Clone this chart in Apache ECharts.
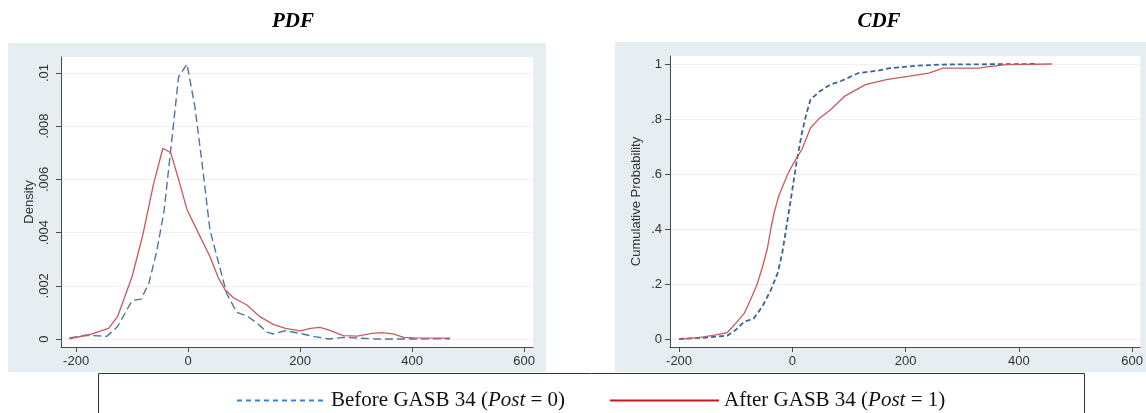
<!DOCTYPE html>
<html>
<head>
<meta charset="utf-8">
<script src="https://cdn.jsdelivr.net/npm/echarts@6/dist/echarts.min.js"></script>
<style>
  html, body { margin: 0; padding: 0; background: #fff; }
  #chart { width: 1146px; height: 413px; }
</style>
</head>
<body>
<div id="chart"></div>
<script>
// tick labels
const xTicks = [-200, 0, 200, 400, 600]
const pdfTicks = [0, 0.002, 0.004, 0.006, 0.008, 0.01]
const cdfTicks = [0, 0.2, 0.4, 0.6, 0.8, 1]

// PDF, before GASB 34 (Post = 0)
const pdfBeforeX = [-212, -183, -145, -126, -100, -84, -70, -56, -43, -29, -17, -2, 12, 25, 39, 54, 69, 87, 105, 123, 141, 152, 174, 200, 226, 251, 277, 302, 334, 398, 468]
const pdfBeforeY = [0.00004, 0.00014, 0.0001, 0.00047, 0.00145, 0.0015, 0.0021, 0.0033, 0.0048, 0.0075, 0.00985, 0.01034, 0.00875, 0.0066, 0.0041, 0.0029, 0.0017, 0.001, 0.00087, 0.0006, 0.00026, 0.00019, 0.00031, 0.00021, 0.00009, 0, 0.00006, 0.00004, 0, 0, 0.00001]

// PDF, after GASB 34 (Post = 1)
const pdfAfterX = [-212, -177, -142, -126, -100, -81, -62, -45, -31, -17, -2, 18, 39, 54, 66, 81, 105, 129, 152, 174, 200, 219, 235, 251, 277, 302, 328, 347, 366, 385, 404, 468]
const pdfAfterY = [0.00001, 0.00016, 0.0004, 0.00084, 0.00235, 0.0039, 0.0058, 0.00717, 0.007, 0.006, 0.00487, 0.004, 0.0031, 0.0023, 0.00185, 0.00155, 0.00128, 0.00083, 0.00055, 0.0004, 0.00031, 0.0004, 0.00044, 0.00034, 0.00013, 0.00011, 0.00021, 0.00024, 0.00019, 0.00006, 0.00004, 0.00003]

// CDF, before
const cdfBeforeX = [-200, -153, -115, -100, -85, -76, -68, -53, -38, -26, -18, -11, -4, 2, 8, 17, 25, 32, 48, 67, 85, 117, 154, 173, 222, 266, 350, 428]
const cdfBeforeY = [0, 0.005, 0.012, 0.033, 0.063, 0.069, 0.075, 0.118, 0.178, 0.239, 0.31, 0.4, 0.49, 0.57, 0.65, 0.75, 0.82, 0.87, 0.9, 0.925, 0.937, 0.967, 0.977, 0.985, 0.994, 0.998, 0.999, 1]

// CDF, after
const cdfAfterX = [-200, -165, -135, -115, -100, -85, -74, -62, -53, -44, -38, -32, -24, -16, -8, 1, 17, 32, 48, 67, 92, 129, 166, 204, 241, 266, 328, 347, 378, 458]
const cdfAfterY = [0, 0.005, 0.015, 0.023, 0.057, 0.093, 0.142, 0.2, 0.26, 0.33, 0.4, 0.46, 0.52, 0.56, 0.6, 0.635, 0.69, 0.767, 0.803, 0.833, 0.882, 0.925, 0.943, 0.955, 0.967, 0.985, 0.985, 0.99, 0.998, 1]

const pairs = (xs, ys) => xs.map((x, i) => [x, ys[i]])
const trimZero = v => v === 0 ? '0' : String(v).replace(/^0\./, '.')

const BLUE = '#4f74a2'
const RED = '#c95a5c'
const PANEL = '#e7eef1'
const GRIDLINE = '#edf3f5'
const AXIS = '#4a4a4a'
const SANS = 'Liberation Sans, Arial, sans-serif'
const SERIF = 'Liberation Serif, Times New Roman, serif'

const chart = echarts.init(document.getElementById('chart'))

const xAxisBase = (grid, min, max) => ({
  type: 'value',
  gridIndex: grid,
  min: min,
  max: max,
  axisLine: { show: true, onZero: false, lineStyle: { color: AXIS, width: 1 } },
  axisTick: { show: true, length: 5, customValues: xTicks, lineStyle: { color: AXIS } },
  axisLabel: { customValues: xTicks, color: '#333', fontFamily: SANS, fontSize: 13, margin: 8 },
  splitLine: { show: false }
})

const yAxisBase = (grid, min, max, ticks, rotate, name, nameGap, margin) => ({
  type: 'value',
  gridIndex: grid,
  min: min,
  max: max,
  name: name,
  nameLocation: 'middle',
  nameGap: nameGap,
  nameTextStyle: { color: '#333', fontFamily: SANS, fontSize: 13 },
  axisLine: { show: true, onZero: false, lineStyle: { color: AXIS, width: 1 } },
  axisTick: { show: true, length: 5, customValues: ticks, lineStyle: { color: AXIS } },
  axisLabel: {
    customValues: ticks,
    rotate: rotate,
    color: '#333',
    fontFamily: SANS,
    fontSize: 13,
    margin: margin,
    formatter: trimZero
  },
  splitLine: { show: true, lineStyle: { color: GRIDLINE, width: 1 } }
})

const legendText = {
  fontFamily: SERIF,
  fontSize: 21,
  color: '#111',
  rich: {
    n: { fontFamily: SERIF, fontSize: 21, color: '#111' },
    i: { fontFamily: SERIF, fontSize: 21, color: '#111', fontStyle: 'italic' }
  }
}

const option = {
  animation: false,
  backgroundColor: '#fff',
  title: [
    { text: 'PDF', left: 288, top: 6, textAlign: 'center',
      textStyle: { fontFamily: SERIF, fontSize: 21, fontWeight: 'bold', fontStyle: 'italic', color: '#000' } },
    { text: 'CDF', left: 874, top: 6, textAlign: 'center',
      textStyle: { fontFamily: SERIF, fontSize: 21, fontWeight: 'bold', fontStyle: 'italic', color: '#000' } }
  ],
  graphic: [
    { type: 'rect', z: -100, shape: { x: 8, y: 43, width: 538, height: 329 }, style: { fill: PANEL } },
    { type: 'rect', z: -100, shape: { x: 615, y: 42, width: 531, height: 330 }, style: { fill: PANEL } },
    { type: 'rect', z: -100, shape: { x: 98.5, y: 373.5, width: 986, height: 60 }, style: { fill: '#fff', stroke: '#333', lineWidth: 1 } }
  ],
  grid: [
    { left: 61, top: 57, width: 472, height: 290, show: true, backgroundColor: '#fff', borderWidth: 0 },
    { left: 670, top: 56, width: 473, height: 291, show: true, backgroundColor: '#fff', borderWidth: 0 }
  ],
  xAxis: [
    xAxisBase(0, -227, 616),
    xAxisBase(1, -216, 614)
  ],
  yAxis: [
    yAxisBase(0, -0.0003, 0.0106, pdfTicks, 90, 'Density', 25, 10),
    yAxisBase(1, -0.029, 1.029, cdfTicks, 0, 'Cumulative Probability', 27, 8)
  ],
  legend: [
    {
      left: 231, top: 385, itemWidth: 89, itemHeight: 14, itemGap: 5,
      data: [{ name: 'Before', lineStyle: { color: '#2f86d8', type: [5, 4], width: 2 }, itemStyle: { opacity: 0 } }],
      formatter: () => '{n|Before GASB 34 (}{i|Post}{n| = 0)}',
      textStyle: legendText
    },
    {
      left: 604, top: 385, itemWidth: 109, itemHeight: 14, itemGap: 5,
      data: [{ name: 'After', lineStyle: { color: '#c8161d', type: 'solid', width: 2 }, itemStyle: { opacity: 0 } }],
      formatter: () => '{n|After GASB 34 (}{i|Post}{n| = 1)}',
      textStyle: legendText
    }
  ],
  series: [
    {
      name: 'Before', type: 'line', xAxisIndex: 0, yAxisIndex: 0, symbol: 'none',
      data: pairs(pdfBeforeX, pdfBeforeY),
      lineStyle: { color: BLUE, width: 1.4, type: [8, 4] }, itemStyle: { color: BLUE }
    },
    {
      name: 'After', type: 'line', xAxisIndex: 0, yAxisIndex: 0, symbol: 'none',
      data: pairs(pdfAfterX, pdfAfterY),
      lineStyle: { color: RED, width: 1.3 }, itemStyle: { color: RED }
    },
    {
      name: 'Before', type: 'line', xAxisIndex: 1, yAxisIndex: 1, symbol: 'none',
      data: pairs(cdfBeforeX, cdfBeforeY),
      lineStyle: { color: '#3f6290', width: 1.8, type: [5, 3] }, itemStyle: { color: BLUE }
    },
    {
      name: 'After', type: 'line', xAxisIndex: 1, yAxisIndex: 1, symbol: 'none',
      data: pairs(cdfAfterX, cdfAfterY),
      lineStyle: { color: RED, width: 1.3 }, itemStyle: { color: RED }
    }
  ]
}

chart.setOption(option)
</script>
</body>
</html>
